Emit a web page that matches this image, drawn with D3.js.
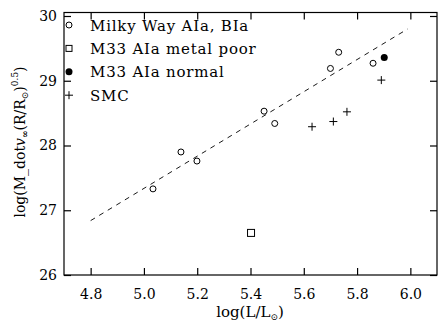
<!DOCTYPE html>
<html lang="en">
<head>
  <meta charset="UTF-8">
  <title>Mass loss vs luminosity</title>
  <style>
    body { margin: 0; background: #fff; }
    svg { font-family: "DejaVu Serif", serif; }
    .frame { fill: none; stroke: #000; stroke-width: 1.2; }
    .tick line { stroke: #000; stroke-width: 1.2; }
  </style>
</head>
<body>
  <svg id="chart" width="448" height="335"></svg>

  <script src="https://cdn.jsdelivr.net/npm/d3@7"></script>
  <script>
    // data
    const milkyWay = [
      [5.034, 27.33], [5.139, 27.90], [5.199, 27.76], [5.451, 28.53],
      [5.491, 28.34], [5.700, 29.19], [5.731, 29.44], [5.860, 29.27]
    ];
    const m33Poor = [[5.402, 26.65]];
    const m33Normal = [[5.902, 29.36]];
    const smc = [[5.631, 28.29], [5.711, 28.37], [5.762, 28.52], [5.891, 29.01]];
    const fitLine = [[4.8, 26.84], [5.99, 29.80]];
    const xTicks = [4.8, 5.0, 5.2, 5.4, 5.6, 5.8, 6.0];
    const yTicks = [26, 27, 28, 29, 30];
    const legendLabels = ["Milky Way AIa, BIa", "M33 AIa metal poor", "M33 AIa normal", "SMC"];

    const svg = d3.select("#chart");
    const pLeft = 64, pRight = 437, pTop = 12.5, pBottom = 275;

    const x = d3.scaleLinear().domain([4.7, 6.1]).range([pLeft, pRight]);
    const y = d3.scaleLinear().domain([26, 30.054]).range([pBottom, pTop]);
    const tl = 7;

    // axes: ticks point inward on all four sides
    svg.append("g").attr("transform", `translate(0,${pBottom})`)
      .call(d3.axisBottom(x).tickValues(xTicks).tickSize(-tl).tickPadding(14).tickFormat(d3.format(".1f")))
      .call(g => g.select(".domain").remove())
      .selectAll("text").attr("font-size", 14).attr("font-family", "DejaVu Serif").attr("fill", "#000");
    svg.append("g").attr("transform", `translate(0,${pTop})`)
      .call(d3.axisTop(x).tickValues(xTicks).tickSize(-tl).tickFormat(""))
      .call(g => g.select(".domain").remove());
    svg.append("g").attr("transform", `translate(${pLeft},0)`)
      .call(d3.axisLeft(y).tickValues(yTicks).tickSize(-tl).tickPadding(7).tickFormat(d3.format("d")))
      .call(g => g.select(".domain").remove())
      .selectAll("text").attr("font-size", 14).attr("font-family", "DejaVu Serif").attr("fill", "#000");
    svg.append("g").attr("transform", `translate(${pRight},0)`)
      .call(d3.axisRight(y).tickValues(yTicks).tickSize(-tl).tickFormat(""))
      .call(g => g.select(".domain").remove());

    svg.append("rect").attr("class", "frame")
      .attr("x", pLeft).attr("y", pTop).attr("width", pRight - pLeft).attr("height", pBottom - pTop);

    // dashed fit
    svg.append("path").datum(fitLine)
      .attr("d", d3.line().x(d => x(d[0])).y(d => y(d[1])))
      .attr("fill", "none").attr("stroke", "#000").attr("stroke-width", 0.9)
      .attr("stroke-dasharray", "5,5");

    const pts = svg.append("g");
    pts.selectAll(".mw").data(milkyWay).join("circle")
      .attr("cx", d => x(d[0])).attr("cy", d => y(d[1])).attr("r", 3)
      .attr("fill", "none").attr("stroke", "#000").attr("stroke-width", 1);
    pts.selectAll(".poor").data(m33Poor).join("rect")
      .attr("x", d => x(d[0]) - 3.5).attr("y", d => y(d[1]) - 3.5)
      .attr("width", 7).attr("height", 7)
      .attr("fill", "none").attr("stroke", "#000").attr("stroke-width", 1);
    pts.selectAll(".norm").data(m33Normal).join("circle")
      .attr("cx", d => x(d[0])).attr("cy", d => y(d[1])).attr("r", 3.5)
      .attr("fill", "#000");
    pts.selectAll(".smc").data(smc).join("path")
      .attr("d", d => { const cx = x(d[0]), cy = y(d[1]);
        return `M${cx - 4},${cy}H${cx + 4}M${cx},${cy - 4}V${cy + 4}`; })
      .attr("stroke", "#000").attr("stroke-width", 1);

    // legend
    const lg = svg.append("g");
    const rowY = i => 25 + i * 23.4;
    lg.append("circle").attr("cx", 69).attr("cy", rowY(0)).attr("r", 3)
      .attr("fill", "none").attr("stroke", "#000");
    lg.append("rect").attr("x", 66).attr("y", rowY(1) - 3).attr("width", 6).attr("height", 6)
      .attr("fill", "none").attr("stroke", "#000");
    lg.append("circle").attr("cx", 69).attr("cy", rowY(2)).attr("r", 3.5).attr("fill", "#000");
    lg.append("path").attr("d", `M65,${rowY(3)}H73M69,${rowY(3) - 4}V${rowY(3) + 4}`).attr("stroke", "#000");
    lg.selectAll("text").data(legendLabels).join("text")
      .attr("x", 90).attr("y", (d, i) => rowY(i) + 5.5)
      .attr("font-size", 15).attr("letter-spacing", 0.8).text(d => d);

    // axis titles
    const xl = svg.append("text").attr("x", 250).attr("y", 317).attr("text-anchor", "middle").attr("font-size", 15);
    xl.append("tspan").text("log(L/L");
    xl.append("tspan").attr("font-size", 9).attr("dy", 3).text("⊙");
    xl.append("tspan").attr("dy", -3).text(")");

    const yl = svg.append("text").attr("transform", "translate(25,142) rotate(-90)")
      .attr("text-anchor", "middle").attr("font-size", 14);
    yl.append("tspan").text("log(M_dot");
    yl.append("tspan").attr("font-style", "italic").text("v");
    yl.append("tspan").attr("font-size", 9).attr("font-weight", "bold").attr("dy", 3).text("∞");
    yl.append("tspan").attr("dy", -3).text("(R/R");
    yl.append("tspan").attr("font-size", 9).attr("dy", 3).text("⊙");
    yl.append("tspan").attr("dy", -3).text(")");
    yl.append("tspan").attr("font-size", 9).attr("dy", -7).text("0.5");
    yl.append("tspan").attr("dy", 7).text(")");
  </script>
</body>
</html>
